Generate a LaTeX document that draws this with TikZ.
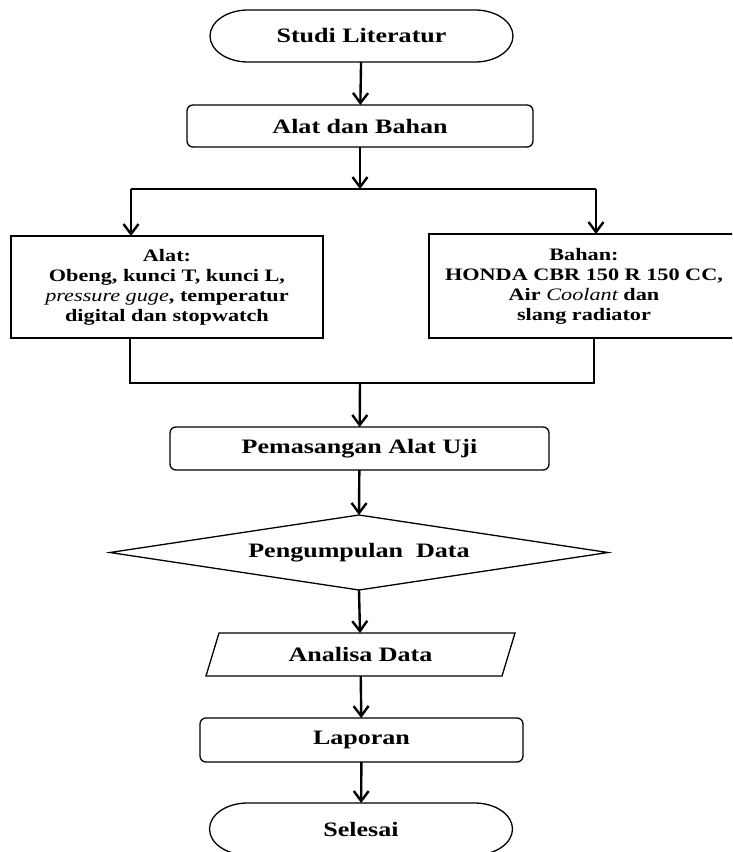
\documentclass[tikz,border=0pt]{standalone}
\usepackage{fontspec}
\setmainfont{Liberation Serif}[FakeStretch=1.27]
\usetikzlibrary{arrows.meta}
\newcommand{\titlefont}{\fontsize{20.5}{24}\selectfont\bfseries}
\newcommand{\bodyfont}{\fontsize{17.5}{20}\selectfont\bfseries}
\newcommand{\itx}[1]{{\mdseries\itshape #1}}
\newcommand{\drawterm}[1]{\draw[outline] ([xshift=38pt]#1.north west) -- ([xshift=-38pt]#1.north east) arc[start angle=90,end angle=-90,x radius=38pt,y radius=26pt] -- ([xshift=38pt]#1.south west) arc[start angle=270,end angle=90,x radius=38pt,y radius=26pt] -- cycle;}
\begin{document}
\begin{tikzpicture}[x=1pt,y=1pt,
  every node/.style={inner sep=0pt, outer sep=0pt, align=center},
  outline/.style={draw=black, line width=1.3pt},
  rbox/.style={outline, rounded corners=6pt, font=\titlefont},
  sbox/.style={outline, font=\bodyfont},
  plain/.style={font=\titlefont},
  link/.style={line width=2.4pt, line join=miter},
  conn/.style={link, -{Straight Barb[length=10pt,width=15pt]}}]
\useasboundingbox (0,0) rectangle (732,-852);
\clip (0,0) rectangle (732,-852);
\fill[white] (0,0) rectangle (732,-852);

% nodes
\node[plain, minimum width=303pt, minimum height=52pt] (start) at (361.5,-36) {Studi Literatur};
\drawterm{start}
\node[rbox, minimum width=346pt, minimum height=42pt] (ab) at (360,-126) {Alat dan Bahan};
\node[sbox, minimum width=312pt, minimum height=102pt] (alat) at (167,-287)
  {Alat:\\Obeng, kunci T, kunci L,\\\itx{pressure guge}, temperatur\\digital dan stopwatch};
\node[sbox, minimum width=310pt, minimum height=104pt] (bahan) at (584,-286)
  {Bahan:\\HONDA CBR 150 R 150 CC,\\Air \itx{Coolant} dan\\slang radiator};
\node[rbox, minimum width=379pt, minimum height=43pt] (pem) at (359.5,-448.5) {Pemasangan Alat Uji};
\node[plain, minimum width=498pt, minimum height=75pt] (pd) at (359,-552.5) {Pengumpulan\ \ Data};
\draw[outline, line join=miter] (pd.north) -- (pd.east) -- (pd.south) -- (pd.west) -- cycle;
\node[plain, minimum width=296pt, minimum height=43pt] (ad) at (360.5,-654.5) {Analisa Data};
\draw[outline] ([xshift=6.5pt]ad.north west) -- ([xshift=6.5pt]ad.north east) -- ([xshift=-6.5pt]ad.south east) -- ([xshift=-6.5pt]ad.south west) -- cycle;
\node[rbox, minimum width=323pt, minimum height=44pt] (lap) at (361.5,-740) {Laporan};
\node[plain, minimum width=303pt, minimum height=52pt] (fin) at (361,-829) {Selesai};
\drawterm{fin}

% junction points
\coordinate (j1) at (360,-189);
\coordinate (jl) at (131,-189);
\coordinate (jr) at (596,-189);
\coordinate (ml) at (130,-383);
\coordinate (mr) at (594,-383);
\coordinate (mc) at (360,-383);

% connectors
\draw[conn] (start) -- (ab);
\draw[conn] (ab) -- (j1);
\draw[link] (jl) -- (jr);
\draw[conn] (jl) -- (jl |- alat.north);
\draw[conn] (jr) -- (jr |- bahan.north);
\draw[link] (ml |- alat.south) -- (ml) -- (mr) -- (mr |- bahan.south);
\draw[conn] (mc) -- (pem);
\draw[conn] (pem) -- (pd.north);
\draw[conn] (pd.south) -- (ad);
\draw[conn] (ad) -- (lap);
\draw[conn] (lap) -- (fin);
\end{tikzpicture}
\end{document}
